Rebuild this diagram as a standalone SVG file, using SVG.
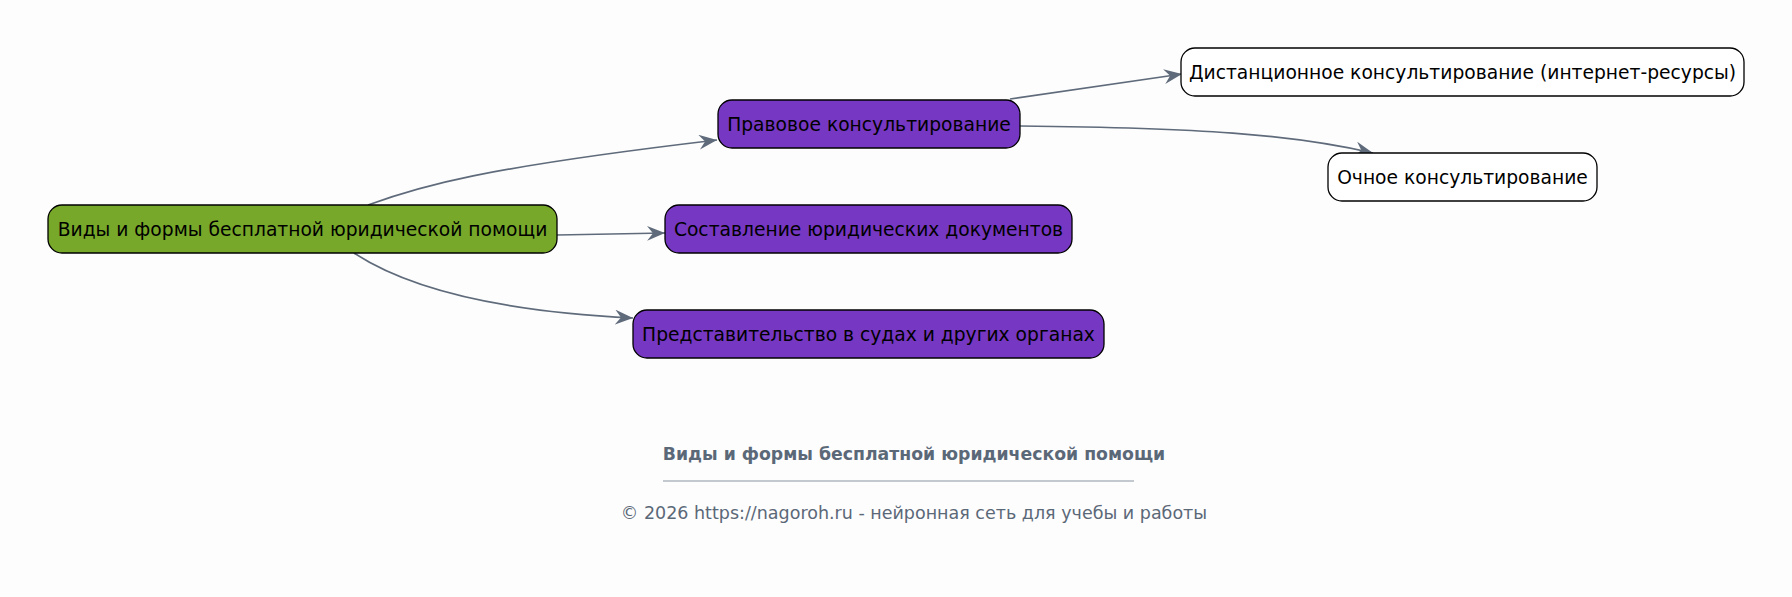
<svg xmlns="http://www.w3.org/2000/svg" width="1792" height="597" viewBox="0 0 1792 597">
<defs>
<style>
.node rect{stroke:#000;stroke-width:1.3}
.root rect{fill:#77a82a}
.mid rect{fill:#7637c3}
.leaf rect{fill:#fff}
.node text{font-family:"DejaVu Sans",sans-serif;font-size:18.7px;fill:#000;text-anchor:middle}
.edges path{fill:none;stroke:#5f6b7b;stroke-width:1.7}
.foot{font-family:"DejaVu Sans",sans-serif;fill:#5b6878;text-anchor:middle}
</style>
<marker id="arr" markerUnits="userSpaceOnUse" markerWidth="20" markerHeight="16" refX="18" refY="7.5" orient="auto">
<path d="M0,0 L18,7.5 L0,15 L6,7.5 Z" fill="#5f6b7b"/>
</marker>
</defs>
<rect width="1792" height="597" fill="#fdfdfd"/>
<g class="edges">
<path d="M368,205 C420,186 480,168 717,140" marker-end="url(#arr)"/>
<path d="M557,235 L665,233" marker-end="url(#arr)"/>
<path d="M354,253 C395,280 470,310 633,318" marker-end="url(#arr)"/>
<path d="M1010,99 L1182,74" marker-end="url(#arr)"/>
<path d="M1020,126 C1200,128 1290,134 1373,153" marker-end="url(#arr)"/>
</g>
<g id="root" class="node root"><rect x="48" y="205" width="509" height="48" rx="14"/><text x="302.5" y="235.5">Виды и формы бесплатной юридической помощи</text></g>
<g id="prav" class="node mid"><rect x="718" y="100" width="302" height="48" rx="14"/><text x="869" y="130.5">Правовое консультирование</text></g>
<g id="sost" class="node mid"><rect x="665" y="205" width="407" height="48" rx="14"/><text x="868.5" y="235.5">Составление юридических документов</text></g>
<g id="pred" class="node mid"><rect x="633" y="310" width="471" height="48" rx="14"/><text x="868.5" y="340.5">Представительство в судах и других органах</text></g>
<g id="dist" class="node leaf"><rect x="1181" y="48" width="563" height="48" rx="14"/><text x="1462.5" y="78.5">Дистанционное консультирование (интернет-ресурсы)</text></g>
<g id="och" class="node leaf"><rect x="1328" y="153" width="269" height="48" rx="14"/><text x="1462.5" y="183.5">Очное консультирование</text></g>
<g id="footer">
<text class="foot" x="914" y="459.5" font-size="17.3" font-weight="bold">Виды и формы бесплатной юридической помощи</text>
<line x1="663" y1="481" x2="1134" y2="481" stroke="#8a95a3" stroke-width="1"/>
<text class="foot" x="914" y="519" font-size="17.5">© 2026 https://nagoroh.ru - нейронная сеть для учебы и работы</text>
</g>
</svg>
